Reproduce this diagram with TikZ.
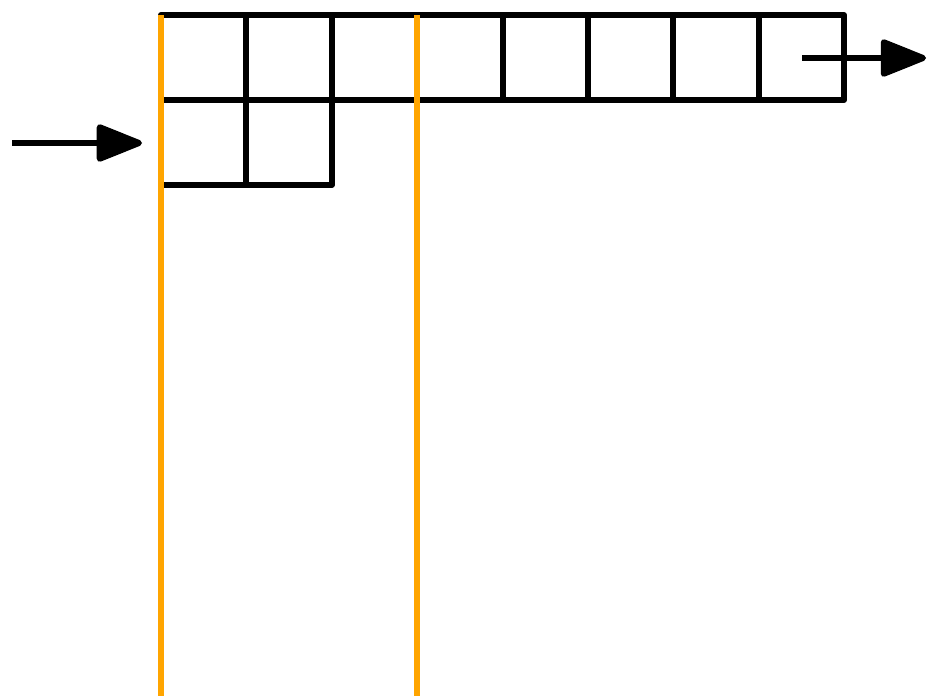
\documentclass[tikz,border=0pt]{standalone}
\usetikzlibrary{arrows.meta}
\definecolor{gold}{HTML}{FFA500}
\tikzset{
  cell/.style={draw=black, line width=4.5pt, line join=round, line cap=round},
  guide/.style={draw=gold, line width=4.5pt},
  flow/.style={draw=black, line width=4.5pt, -{Triangle[length=38pt,width=29pt,round]}}
}
\begin{document}
\begin{tikzpicture}[x=0.75pt,y=-0.75pt]
\useasboundingbox (0,0) rectangle (928,696);
% grid
\foreach \i in {0,...,7} {
  \draw[cell] ({161+\i*85.375},15) rectangle ({161+(\i+1)*85.375},100);
}
\foreach \i in {0,1} {
  \draw[cell] ({161+\i*85.375},100) rectangle ({161+(\i+1)*85.375},185);
}
% guides
\coordinate (g1t) at (161,15);
\coordinate (g1b) at (161,696);
\coordinate (g2t) at (417,15);
\coordinate (g2b) at (417,696);
\draw[guide] (g1t) -- (g1b);
\draw[guide] (g2t) -- (g2b);
% arrows
\coordinate (ina) at (12,143);
\coordinate (inb) at (142,143);
\coordinate (outa) at (802,58);
\coordinate (outb) at (926,58);
\draw[flow] (ina) -- (inb);
\draw[flow] (outa) -- (outb);
\end{tikzpicture}
\end{document}
